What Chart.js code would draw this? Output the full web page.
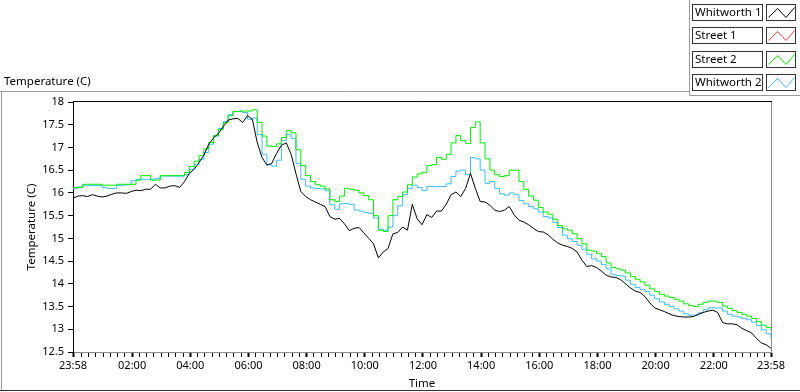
<!DOCTYPE html>
<html>
<head>
<meta charset="utf-8">
<script src="https://cdn.jsdelivr.net/npm/chart.js@4"></script>
<style>
  html, body { margin: 0; padding: 0; background: #fff; }
  #chart { display: block; }
</style>
</head>
<body>
<canvas id="chart" width="800" height="392"></canvas>
<script>
// samples every 10 minutes starting at 23:58
const SAMPLE_STEP = 10;

const seriesNames = ["Whitworth 1", "Street 1", "Street 2", "Whitworth 2"];
const seriesColors = ["#000000", "#ff3c3c", "#00ee00", "#3cbcff"];

const whitworth1 = [15.88,15.93,15.94,15.92,15.96,15.93,15.91,15.93,15.97,16.00,
  16.00,15.99,16.03,16.06,16.05,16.08,16.08,16.19,16.11,16.11,
  16.15,16.16,16.12,16.25,16.43,16.52,16.67,16.83,17.07,17.21,
  17.31,17.46,17.60,17.63,17.64,17.55,17.70,17.62,17.11,16.78,
  16.61,16.65,16.87,17.05,17.10,16.85,16.42,16.03,15.92,15.85,
  15.80,15.75,15.70,15.48,15.42,15.44,15.32,15.17,15.22,15.24,
  15.12,15.00,14.88,14.57,14.70,14.78,15.10,15.13,15.25,15.18,
  15.75,15.43,15.30,15.52,15.46,15.60,15.60,15.75,15.96,16.02,
  15.92,16.10,16.43,16.10,15.81,15.80,15.73,15.62,15.59,15.62,
  15.70,15.52,15.40,15.36,15.30,15.22,15.15,15.14,15.08,14.98,
  14.90,14.85,14.82,14.78,14.70,14.52,14.38,14.40,14.36,14.28,
  14.19,14.15,14.14,14.09,14.00,13.91,13.84,13.81,13.72,13.58,
  13.47,13.43,13.39,13.34,13.30,13.28,13.27,13.27,13.28,13.33,
  13.37,13.40,13.42,13.37,13.15,13.12,13.12,13.10,13.02,12.97,
  12.92,12.80,12.70,12.66,12.58];

const street1 = [];

const street2 = [16.12,16.12,16.19,16.19,16.19,16.19,16.17,16.17,16.17,16.19,
  16.19,16.19,16.19,16.28,16.38,16.38,16.28,16.28,16.38,16.38,
  16.38,16.38,16.38,16.45,16.58,16.70,16.82,16.97,17.11,17.26,
  17.39,17.54,17.70,17.79,17.80,17.80,17.80,17.83,17.55,17.25,
  17.03,17.02,17.08,17.22,17.37,17.32,16.95,16.60,16.38,16.25,
  16.18,16.15,16.09,15.85,15.81,15.93,16.10,16.08,16.06,16.00,
  15.94,15.85,15.50,15.18,15.15,15.50,15.85,15.92,16.02,16.18,
  16.35,16.42,16.45,16.60,16.62,16.78,16.74,16.85,17.10,17.26,
  17.15,17.09,17.44,17.56,17.10,16.75,16.50,16.40,16.36,16.38,
  16.50,16.50,16.25,16.08,15.93,15.84,15.68,15.58,15.53,15.42,
  15.28,15.21,15.18,15.10,14.99,14.88,14.74,14.72,14.67,14.60,
  14.46,14.36,14.33,14.30,14.24,14.16,14.10,14.04,13.97,13.89,
  13.83,13.77,13.73,13.70,13.66,13.62,13.56,13.52,13.50,13.55,
  13.59,13.62,13.62,13.59,13.51,13.46,13.41,13.37,13.33,13.29,
  13.24,13.17,13.09,13.04,12.98];

const whitworth2 = [16.10,16.13,16.16,16.16,16.16,16.16,16.12,16.10,16.10,16.16,
  16.17,16.18,16.27,16.30,16.30,16.30,16.30,16.32,16.37,16.37,
  16.37,16.37,16.37,16.40,16.52,16.62,16.74,16.89,17.07,17.25,
  17.42,17.57,17.72,17.79,17.79,17.77,17.62,17.65,17.28,16.85,
  16.62,16.59,16.72,17.15,17.28,17.20,16.65,16.30,16.15,16.11,
  16.10,16.09,16.05,15.74,15.64,15.76,15.77,15.75,15.62,15.60,
  15.57,15.55,15.45,15.20,15.18,15.25,15.50,15.72,15.96,16.10,
  16.17,16.12,16.05,16.14,16.14,16.14,16.14,16.20,16.36,16.48,
  16.50,16.40,16.78,16.75,16.50,16.21,16.25,16.10,15.98,15.95,
  16.00,15.96,15.83,15.76,15.70,15.65,15.58,15.48,15.45,15.35,
  15.24,15.07,14.99,14.93,14.85,14.76,14.65,14.55,14.50,14.42,
  14.33,14.20,14.18,14.17,14.08,13.99,13.92,13.87,13.83,13.75,
  13.67,13.60,13.55,13.50,13.45,13.40,13.34,13.31,13.31,13.36,
  13.43,13.47,13.47,13.47,13.40,13.33,13.29,13.27,13.24,13.21,
  13.16,13.08,12.99,12.90,12.80];

// x axis: minutes after 23:58
const xTickMinutes = [0, 122, 242, 362, 482, 602, 722, 842, 962, 1082, 1202, 1322, 1440];
const xTickLabels = ["23:58", "02:00", "04:00", "06:00", "08:00", "10:00", "12:00",
  "14:00", "16:00", "18:00", "20:00", "22:00", "23:58"];

const FONT = '"Noto Sans", sans-serif';

function toPoints(values) {
  return values.map((v, i) => ({ x: i * SAMPLE_STEP, y: v }));
}

// frame, plot border, top label and the LabVIEW style legend
const framePlugin = {
  id: "frame",
  beforeDraw(chart) {
    const ctx = chart.ctx;
    ctx.save();
    ctx.fillStyle = "#fff";
    ctx.fillRect(0, 0, chart.width, chart.height);
    ctx.restore();
  },
  afterDraw(chart) {
    const ctx = chart.ctx;
    const a = chart.chartArea;
    ctx.save();
    ctx.lineWidth = 1;

    // plot border top / right
    ctx.strokeStyle = "#000";
    ctx.beginPath();
    ctx.moveTo(a.left, a.top - 0.5);
    ctx.lineTo(a.right + 1, a.top - 0.5);
    ctx.stroke();
    ctx.strokeStyle = "#8c8c8c";
    ctx.beginPath();
    ctx.moveTo(a.right + 0.5, a.top);
    ctx.lineTo(a.right + 0.5, a.bottom + 1);
    ctx.stroke();

    // outer frame
    ctx.strokeStyle = "#9a9a9a";
    ctx.beginPath();
    ctx.moveTo(0, 91.5);
    ctx.lineTo(689.5, 91.5);
    ctx.moveTo(689.5, 0);
    ctx.lineTo(689.5, 95.5);
    ctx.lineTo(800, 95.5);
    ctx.moveTo(1.5, 91.5);
    ctx.lineTo(1.5, 390);
    ctx.stroke();
    ctx.strokeStyle = "#333";
    ctx.beginPath();
    ctx.moveTo(0, 390.5);
    ctx.lineTo(800, 390.5);
    ctx.stroke();

    // top label
    ctx.fillStyle = "#000";
    ctx.font = "11.5px " + FONT;
    ctx.textBaseline = "middle";
    ctx.textAlign = "left";
    ctx.fillText("Temperature (C)", 4, 82);

    // legend
    seriesNames.forEach((name, i) => {
      const top = 4.5 + Math.round(i * 23.35);
      ctx.strokeStyle = "#333";
      ctx.strokeRect(692.5, top, 70, 16);
      ctx.strokeRect(766.5, top, 29, 16);
      ctx.fillStyle = "#000";
      ctx.fillText(name, 695, top + 8.5);
      ctx.strokeStyle = seriesColors[i];
      ctx.beginPath();
      ctx.moveTo(768.5, top + 13);
      ctx.lineTo(777.5, top + 4);
      ctx.lineTo(786, top + 13);
      ctx.lineTo(794.5, top + 3);
      ctx.stroke();
    });
    ctx.restore();
  }
};

const seriesData = [whitworth1, street1, street2, whitworth2];

new Chart(document.getElementById("chart"), {
  type: "line",
  data: {
    datasets: seriesData.map((vals, i) => ({
      label: seriesNames[i],
      data: toPoints(vals),
      borderColor: seriesColors[i],
      borderWidth: 1,
      pointRadius: 0,
      tension: 0,
      stepped: i >= 2 ? "before" : false,
      fill: false
    }))
  },
  options: {
    responsive: false,
    devicePixelRatio: 1,
    animation: false,
    events: [],
    layout: { padding: { left: 0, top: 102, right: 29, bottom: 0 } },
    plugins: {
      legend: { display: false },
      tooltip: { enabled: false }
    },
    scales: {
      x: {
        type: "linear",
        min: 0,
        max: 1440,
        afterBuildTicks(scale) {
          const ticks = xTickMinutes.map(v => ({ value: v }));
          for (let m = 17; m < 1440; m += 15) {
            if (!xTickMinutes.includes(m)) ticks.push({ value: m });
          }
          ticks.sort((p, q) => p.value - q.value);
          scale.ticks = ticks;
        },
        afterFit(scale) { scale.height = 40; },
        ticks: {
          autoSkip: false,
          maxRotation: 0,
          padding: 2,
          color: "#000",
          font: { family: FONT, size: 11 },
          callback(value) {
            const k = xTickMinutes.indexOf(value);
            return k >= 0 ? xTickLabels[k] : "";
          }
        },
        grid: {
          drawOnChartArea: false,
          drawTicks: true,
          tickLength: 5,
          tickColor: "#000",
          tickWidth: ctx => (ctx.tick && xTickMinutes.includes(ctx.tick.value) ? 2 : 1)
        },
        border: { display: true, color: "#8c8c8c", width: 1 },
        title: {
          display: true,
          text: "Time",
          color: "#000",
          font: { family: FONT, size: 11.5 },
          padding: { top: 0, bottom: 1 }
        }
      },
      y: {
        min: 12.5,
        max: 18,
        afterFit(scale) { scale.width = 73; },
        ticks: {
          stepSize: 0.5,
          padding: 4,
          color: "#000",
          font: { family: FONT, size: 11 },
          callback: value => String(Math.round(value * 10) / 10)
        },
        grid: {
          drawOnChartArea: false,
          drawTicks: true,
          tickLength: 5,
          tickColor: "#000"
        },
        border: { display: true, color: "#000", width: 1 },
        title: {
          display: true,
          text: "Temperature (C)",
          color: "#000",
          font: { family: FONT, size: 11.5 },
          padding: { top: 25, bottom: 0 }
        }
      }
    }
  },
  plugins: [framePlugin]
});
</script>
</body>
</html>
